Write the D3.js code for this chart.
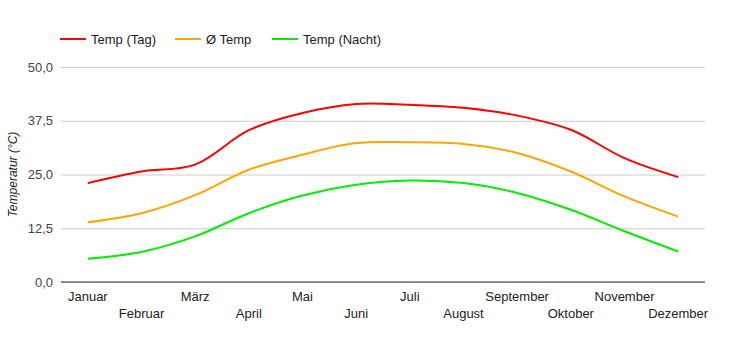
<!DOCTYPE html>
<html>
<head>
<meta charset="utf-8">
<script src="https://cdn.jsdelivr.net/npm/d3@7"></script>
<style>
  body { margin: 0; background: #fff; }
  svg { display: block; font-family: Arial, "Liberation Sans", sans-serif; }
</style>
</head>
<body>
<svg id="chart" width="750" height="350"></svg>
<script>
// monthly temperatures
const months = ['Januar', 'Februar', 'März', 'April', 'Mai', 'Juni',
                'Juli', 'August', 'September', 'Oktober', 'November', 'Dezember'];
const tempDay   = [23.0, 25.7, 27.3, 35.3, 39.3, 41.4, 41.2, 40.5, 38.7, 35.4, 28.8, 24.4];
const tempAvg   = [13.9, 16.0, 20.2, 26.1, 29.6, 32.3, 32.5, 32.1, 30.0, 25.7, 19.9, 15.2];
const tempNight = [5.4, 7.0, 10.6, 16.0, 20.1, 22.6, 23.6, 23.0, 20.7, 16.8, 11.8, 7.1];
const yTicks = [0, 12.5, 25, 37.5, 50];

const seriesList = [
    { name: 'Temp (Tag)', values: tempDay, color: '#ff0000' },
    { name: 'Ø Temp', values: tempAvg, color: '#ffa500' },
    { name: 'Temp (Nacht)', values: tempNight, color: '#00ee00' }
];

const margin = { left: 61, right: 45, top: 67, bottom: 68 };
const W = 750, H = 350;

const svg = d3.select('#chart');

const x = d3.scaleBand()
    .domain(months)
    .range([margin.left, W - margin.right]);

const y = d3.scaleLinear()
    .domain([0, 50])
    .range([H - margin.bottom, margin.top]);

const fmt = v => v.toFixed(1).replace('.', ',');

// gridlines + y labels
const yAxis = svg.append('g')
    .attr('transform', `translate(${margin.left},0)`)
    .call(d3.axisLeft(y).tickValues(yTicks).tickSize(-(W - margin.left - margin.right)).tickFormat(fmt));
yAxis.select('.domain').remove();
yAxis.selectAll('.tick line').attr('stroke', '#cccccc');
yAxis.selectAll('.tick text')
    .attr('x', -8)
    .attr('fill', '#444')
    .style('font-size', '13px');

// baseline
svg.append('line')
    .attr('x1', margin.left).attr('x2', W - margin.right)
    .attr('y1', y(0)).attr('y2', y(0))
    .attr('stroke', '#333').attr('stroke-width', 1);

// y title
svg.append('text')
    .attr('transform', `translate(17,${(y(0) + y(50)) / 2}) rotate(-90)`)
    .attr('text-anchor', 'middle')
    .style('font-size', '12px')
    .style('font-style', 'italic')
    .attr('fill', '#222')
    .text('Temperatur (°C)');

// x labels, staggered in two rows
svg.append('g')
    .selectAll('text')
    .data(months)
    .join('text')
    .attr('x', d => x(d) + x.bandwidth() / 2)
    .attr('y', (d, i) => i % 2 === 0 ? 301 : 318)
    .attr('text-anchor', 'middle')
    .style('font-size', '13px')
    .attr('fill', '#222')
    .text(d => d);

// lines
const line = d3.line()
    .x((d, i) => x(months[i]) + x.bandwidth() / 2)
    .y(d => y(d))
    .curve(d3.curveCatmullRom.alpha(0.5));

svg.append('g')
    .selectAll('path')
    .data(seriesList)
    .join('path')
    .attr('d', d => line(d.values))
    .attr('fill', 'none')
    .attr('stroke', d => d.color)
    .attr('stroke-width', 2);

// legend
const legendX = [60, 175, 272];
const legend = svg.append('g')
    .selectAll('g')
    .data(seriesList)
    .join('g')
    .attr('transform', (d, i) => `translate(${legendX[i]},39)`);
legend.append('line')
    .attr('x1', 0).attr('x2', 26)
    .attr('stroke', d => d.color)
    .attr('stroke-width', 2);
legend.append('text')
    .attr('x', 31)
    .attr('dy', '0.35em')
    .style('font-size', '13px')
    .attr('fill', '#222')
    .text(d => d.name);
</script>
</body>
</html>
